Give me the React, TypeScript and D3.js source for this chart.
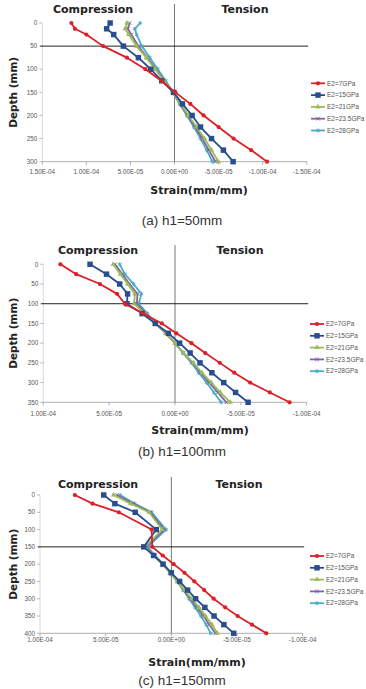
import React, { useEffect, useRef } from "react";
import * as d3 from "d3";

// series labels + colours (Excel style)
const seriesNames = ["E2=7GPa", "E2=15GPa", "E2=21GPa", "E2=23.5GPa", "E2=28GPa"];
const seriesColors = ["#dd1f28", "#2a4d8e", "#9bbb59", "#8064a2", "#4bacc6"];

// strain values are in 1e-4 mm/mm, positive = compression (left side)
// (a) h1=50mm
const depthA = [0, 12.5, 25, 50, 75, 100, 125, 150, 175, 200, 225, 250, 275, 300];
const a7 = [1.17, 1.13, 1.0, 0.81, 0.54, 0.33, 0.15, -0.01, -0.18, -0.33, -0.5, -0.67, -0.87, -1.05];
const a15 = [0.73, 0.77, 0.69, 0.58, 0.41, 0.27, 0.145, 0.01, -0.09, -0.2, -0.295, -0.42, -0.555, -0.665];
const a21 = [0.54, 0.56, 0.52, 0.43, 0.32, 0.22, 0.12, 0.02, -0.07, -0.16, -0.25, -0.34, -0.42, -0.5];
const a235 = [0.51, 0.53, 0.49, 0.41, 0.31, 0.21, 0.115, 0.02, -0.065, -0.15, -0.235, -0.315, -0.39, -0.465];
const a28 = [0.39, 0.45, 0.43, 0.37, 0.28, 0.19, 0.1, 0.02, -0.06, -0.14, -0.22, -0.295, -0.365, -0.43];

// (b) h1=100mm
const depthB = [0, 25, 50, 75, 100, 125, 150, 175, 200, 225, 250, 275, 300, 325, 350];
const b7 = [0.87, 0.75, 0.57, 0.44, 0.38, 0.24, 0.1, -0.01, -0.125, -0.23, -0.34, -0.45, -0.57, -0.72, -0.87];
const b15 = [0.645, 0.52, 0.42, 0.36, 0.365, 0.25, 0.15, 0.05, -0.035, -0.115, -0.19, -0.28, -0.37, -0.46, -0.555];
const b21 = [0.47, 0.415, 0.36, 0.305, 0.31, 0.23, 0.15, 0.07, 0.0, -0.065, -0.14, -0.205, -0.275, -0.345, -0.42];
const b235 = [0.455, 0.4, 0.345, 0.285, 0.29, 0.22, 0.15, 0.07, 0.0, -0.065, -0.135, -0.195, -0.26, -0.325, -0.39];
const b28 = [0.42, 0.38, 0.315, 0.255, 0.275, 0.21, 0.145, 0.07, 0.0, -0.06, -0.125, -0.18, -0.24, -0.295, -0.35];

// (c) h1=150mm
const depthC = [0, 25, 50, 100, 150, 175, 200, 225, 250, 275, 300, 325, 350, 375, 400];
const c7 = [0.735, 0.6, 0.4, 0.15, 0.145, 0.066, -0.018, -0.1, -0.175, -0.25, -0.322, -0.41, -0.505, -0.614, -0.723];
const c15 = [0.515, 0.43, 0.275, 0.115, 0.21, 0.135, 0.063, 0.0, -0.063, -0.124, -0.185, -0.255, -0.325, -0.4, -0.475];
const c21 = [0.44, 0.31, 0.17, 0.07, 0.2, 0.135, 0.07, 0.01, -0.045, -0.1, -0.155, -0.21, -0.26, -0.31, -0.35];
const c235 = [0.415, 0.29, 0.16, 0.055, 0.19, 0.13, 0.065, 0.01, -0.045, -0.095, -0.145, -0.195, -0.245, -0.29, -0.335];
const c28 = [0.39, 0.28, 0.15, 0.04, 0.18, 0.125, 0.06, 0.005, -0.045, -0.09, -0.135, -0.18, -0.225, -0.265, -0.3];

const xTicksA = [1.5, 1, 0.5, 0, -0.5, -1, -1.5];
const xTicksBC = [1, 0.5, 0, -0.5, -1];
const yTicksA = [0, 50, 100, 150, 200, 250, 300];
const yTicksB = [0, 50, 100, 150, 200, 250, 300, 350];
const yTicksC = [0, 50, 100, 150, 200, 250, 300, 350, 400];
const captions = ["(a) h1=50mm", "(b) h1=100mm", "(c) h1=150mm"];
const h1Values = [50, 100, 150];

const panels = [
  { depth: depthA, series: [a7, a15, a21, a235, a28], xTicks: xTicksA, yTicks: yTicksA,
    left: 42.3, right: 306.7, top: 23, bottom: 161.7, lineTop: 4, titleY: 9, compX: 93, tensX: 245,
    legendX: 311, legendY: 83.3, tickY: 171.7, strainX: 199, strainY: 190, capY: 220 },
  { depth: depthB, series: [b7, b15, b21, b235, b28], xTicks: xTicksBC, yTicks: yTicksB,
    left: 43.3, right: 306.7, top: 264.3, bottom: 402.3, lineTop: 245, titleY: 250, compX: 98, tensX: 240,
    legendX: 310, legendY: 324, tickY: 413.3, strainX: 200, strainY: 430, capY: 451.7 },
  { depth: depthC, series: [c7, c15, c21, c235, c28], xTicks: xTicksBC, yTicks: yTicksC,
    left: 40, right: 302.7, top: 495, bottom: 633.3, lineTop: 477, titleY: 484, compX: 98, tensX: 239,
    legendX: 310, legendY: 556, tickY: 640, strainX: 197, strainY: 661.7, capY: 680.5 },
];

// 1.50E-04 style labels
const fmtExp = (v: number) => {
  const s = (v * 1e-4).toExponential(2);
  const [m, e] = s.split("e");
  const n = parseInt(e, 10);
  return m + "E" + (n < 0 ? "-" : "+") + String(Math.abs(n)).padStart(2, "0");
};

const symbols = [d3.symbolCircle, d3.symbolSquare, d3.symbolTriangle, d3.symbolTimes, d3.symbolAsterisk];
const symSizes = [14, 30, 12, 10, 12];

const App = () => {
  const ref = useRef<SVGSVGElement>(null);

  useEffect(() => {
    document.body.style.margin = "0";
    const svg = d3.select(ref.current);
    svg.selectAll("*").remove();

    const font = "'DejaVu Sans', sans-serif";

    panels.forEach((p, pi) => {
      const xMax = p.xTicks[0];
      const x = d3.scaleLinear().domain([xMax, -xMax]).range([p.left, p.right]);
      const dMax = p.yTicks[p.yTicks.length - 1];
      const y = d3.scaleLinear().domain([0, dMax]).range([p.top, p.bottom]);
      const g = svg.append("g");

      // y axis (light) with ticks
      g.append("line").attr("x1", p.left).attr("x2", p.left).attr("y1", p.top).attr("y2", p.bottom)
        .attr("stroke", "#d0d0d0").attr("stroke-width", 0.8);
      p.yTicks.forEach((t) => {
        g.append("line").attr("x1", p.left - 3).attr("x2", p.left).attr("y1", y(t)).attr("y2", y(t))
          .attr("stroke", "#aaa").attr("stroke-width", 0.8);
        g.append("text").attr("x", p.left - 5).attr("y", y(t)).attr("dy", "0.35em")
          .attr("text-anchor", "end").attr("font-family", "'Liberation Sans', Arial, sans-serif")
          .attr("font-size", 6.3).attr("fill", "#555").text(t);
      });

      // x axis at bottom
      g.append("line").attr("x1", p.left).attr("x2", p.right).attr("y1", p.bottom).attr("y2", p.bottom)
        .attr("stroke", "#999").attr("stroke-width", 0.8);
      p.xTicks.forEach((t) => {
        g.append("line").attr("x1", x(t)).attr("x2", x(t)).attr("y1", p.bottom).attr("y2", p.bottom + 3)
          .attr("stroke", "#999").attr("stroke-width", 0.8);
        g.append("text").attr("x", x(t)).attr("y", p.tickY).attr("dy", "0.35em")
          .attr("text-anchor", "middle").attr("font-family", "'Liberation Sans', Arial, sans-serif")
          .attr("font-size", 6.3).attr("fill", "#555").text(fmtExp(t));
      });

      // zero strain line
      g.append("line").attr("x1", x(0)).attr("x2", x(0)).attr("y1", p.lineTop).attr("y2", p.bottom)
        .attr("stroke", "#777").attr("stroke-width", 1);
      // h1 interface line
      g.append("line").attr("x1", p.left - 2).attr("x2", p.right + 1.5)
        .attr("y1", y(h1Values[pi])).attr("y2", y(h1Values[pi]))
        .attr("stroke", "#222").attr("stroke-width", 1);

      // headings
      g.append("text").attr("x", p.compX).attr("y", p.titleY).attr("dy", "0.35em").attr("text-anchor", "middle")
        .attr("font-family", font).attr("font-weight", "bold").attr("font-size", 11).attr("fill", "#222")
        .text("Compression");
      g.append("text").attr("x", p.tensX).attr("y", p.titleY).attr("dy", "0.35em").attr("text-anchor", "middle")
        .attr("font-family", font).attr("font-weight", "bold").attr("font-size", 11).attr("fill", "#222")
        .text("Tension");

      // series, drawn last-first so red is on top
      const line = d3.line<number>().x((v) => x(v)).y((v, i) => y(p.depth[i]));
      for (let s = p.series.length - 1; s >= 0; s--) {
        const vals = p.series[s];
        g.append("path").attr("d", line(vals)).attr("fill", "none")
          .attr("stroke", seriesColors[s]).attr("stroke-width", 1.8).attr("stroke-linejoin", "round");
        const sym = d3.symbol().type(symbols[s]).size(symSizes[s]);
        const stroked = s >= 3;
        g.selectAll(null).data(vals).enter().append("path")
          .attr("transform", (v, i) => "translate(" + x(v) + "," + y(p.depth[i]) + ")")
          .attr("d", sym())
          .attr("fill", stroked ? "none" : seriesColors[s])
          .attr("stroke", stroked ? seriesColors[s] : "none")
          .attr("stroke-width", 1);
      }

      // legend
      seriesNames.forEach((name, s) => {
        const ly = p.legendY + s * 11.8;
        g.append("line").attr("x1", p.legendX).attr("x2", p.legendX + 14).attr("y1", ly).attr("y2", ly)
          .attr("stroke", seriesColors[s]).attr("stroke-width", 1.8);
        const stroked = s >= 3;
        g.append("path").attr("transform", "translate(" + (p.legendX + 7) + "," + ly + ")")
          .attr("d", d3.symbol().type(symbols[s]).size(symSizes[s])())
          .attr("fill", stroked ? "none" : seriesColors[s])
          .attr("stroke", stroked ? seriesColors[s] : "none").attr("stroke-width", 1);
        g.append("text").attr("x", p.legendX + 16).attr("y", ly).attr("dy", "0.35em")
          .attr("font-family", "'Liberation Sans', Arial, sans-serif").attr("font-size", 6.5)
          .attr("fill", "#555").text(name);
      });

      // axis titles
      g.append("text").attr("transform", "translate(13," + (p.top + p.bottom) / 2 + ") rotate(-90)")
        .attr("dy", "0.35em").attr("text-anchor", "middle").attr("font-family", font)
        .attr("font-weight", "bold").attr("font-size", 10.5).attr("fill", "#222").text("Depth (mm)");
      g.append("text").attr("x", p.strainX).attr("y", p.strainY).attr("dy", "0.35em").attr("text-anchor", "middle")
        .attr("font-family", font).attr("font-weight", "bold").attr("font-size", 11).attr("fill", "#222")
        .text("Strain(mm/mm)");

      // caption
      g.append("text").attr("x", 182).attr("y", p.capY).attr("dy", "0.35em").attr("text-anchor", "middle")
        .attr("font-family", "'Liberation Sans', Arial, sans-serif").attr("font-size", 13.5).attr("fill", "#333")
        .text(captions[pi]);
    });
  }, []);

  return <svg ref={ref} width={366} height={689} style={{ display: "block", background: "#fff" }} />;
};

export default App;
